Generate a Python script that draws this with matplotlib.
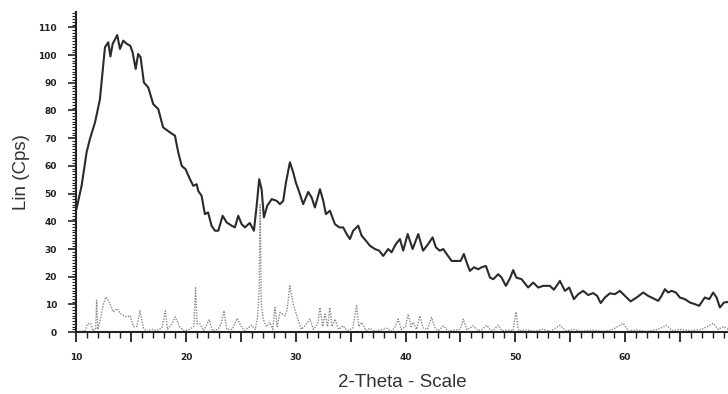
import numpy as np
import matplotlib
matplotlib.use("Agg")
import matplotlib.pyplot as plt
from matplotlib.ticker import MultipleLocator

# Measured pattern (solid)
meas_x = [10.0, 10.47, 10.93, 11.23, 11.7, 12.14, 12.44, 12.6, 12.9, 13.1, 13.3, 13.72,
          13.97, 14.27, 14.6, 14.9, 15.12, 15.4, 15.63, 15.85, 16.15, 16.55, 17.0, 17.46,
          17.9, 18.52, 18.98, 19.28, 19.6, 19.95, 20.35, 20.65, 20.96, 21.1, 21.41, 21.71,
          22.0, 22.32, 22.63, 22.93, 23.33, 23.69, 24.15, 24.45, 24.75, 25.06, 25.36, 25.8,
          26.18, 26.43, 26.66, 26.88, 27.09, 27.39, 27.8, 28.25, 28.55, 28.85, 29.1, 29.46,
          29.76, 30.0, 30.22, 30.67, 31.13, 31.44, 31.74, 32.2, 32.5, 32.74, 33.11, 33.56,
          33.96, 34.32, 34.63, 34.93, 35.23, 35.69, 36.0, 36.39, 36.75, 37.21, 37.6, 37.97,
          38.42, 38.73, 39.12, 39.49, 39.79, 40.2, 40.65, 41.16, 41.6, 42.07, 42.47, 42.77,
          43.13, 43.44, 43.75, 44.2, 44.66, 45.02, 45.32, 45.57, 45.87, 46.24, 46.63, 46.94,
          47.33, 47.7, 48.0, 48.45, 48.76, 49.15, 49.52, 49.82, 50.1, 50.58, 51.18, 51.64,
          52.1, 52.55, 53.16, 53.53, 54.08, 54.53, 54.92, 55.35, 55.74, 56.2, 56.65, 57.11,
          57.47, 57.79, 58.18, 58.63, 59.09, 59.54, 60.0, 60.52, 61.07, 61.67, 62.12, 62.58,
          63.04, 63.34, 63.65, 63.95, 64.26, 64.65, 65.01, 65.47, 65.93, 66.38, 66.77, 67.29,
          67.69, 68.05, 68.36, 68.66, 69.03, 69.4]
meas_y = [44.4, 52.8, 65, 69.7, 75.8, 84, 96, 102.8, 104.6, 99.5, 104, 107.2,
          102.2, 105.2, 104, 103.4, 101, 95, 100.4, 99.2, 90.1, 88.3, 82.3, 80.5,
          73.9, 72.1, 70.9, 64.9, 60, 58.8, 55.2, 52.8, 53.4, 51, 49.2, 42.6,
          43.2, 38.4, 36.6, 36.6, 42, 39.6, 38.4, 37.8, 42, 39, 37.8, 39.4,
          36.6, 45.6, 55.2, 51.6, 41.4, 45.6, 48, 47.4, 46.2, 47.4, 54, 61.3,
          57.7, 54, 51.6, 46.2, 50.6, 48.6, 45, 51.6, 47.4, 42.6, 43.8, 39,
          37.8, 37.8, 35.4, 33.6, 36.6, 38.4, 34.8, 33, 31.2, 30, 29.4, 27.5,
          30, 28.8, 31.8, 33.6, 29.4, 35.4, 30, 35.4, 29.4, 31.8, 34.2, 30.6,
          29.4, 30, 28.2, 25.7, 25.7, 25.7, 28.2, 25.2, 22.1, 23.4, 22.7, 23.4,
          23.9, 19.7, 19.1, 20.9, 19.7, 16.7, 19.4, 22.4, 19.7, 19.1, 16.1, 17.9,
          16.1, 16.7, 16.7, 15.3, 18.5, 14.9, 16.1, 11.9, 13.7, 14.9, 13.4, 14.1,
          13.1, 10.5, 12.5, 14.0, 13.7, 14.9, 13.1, 11.1, 12.5, 14.3, 13.1, 12.2,
          11.3, 13.1, 15.5, 14.3, 14.9, 14.3, 12.5, 11.9, 10.7, 10.1, 9.5, 12.5,
          11.9, 14.3, 12.5, 8.9, 10.7, 10.9]

# Difference / reference pattern (dotted)
ref_x = [10.0, 10.8, 11.0, 11.3, 11.5, 11.75, 11.84, 11.95, 12.2, 12.45, 12.7, 13.05,
         13.35, 13.72, 14.0, 14.3, 14.6, 14.9, 15.2, 15.5, 15.8, 16.1, 16.4, 16.9,
         17.3, 17.8, 18.1, 18.3, 18.7, 19.0, 19.4, 19.8, 20.3, 20.7, 20.86, 21.0,
         21.26, 21.6, 22.1, 22.4, 22.9, 23.2, 23.45, 23.7, 24.2, 24.66, 24.9, 25.3,
         25.97, 26.3, 26.5, 26.66, 26.75, 26.85, 27.03, 27.3, 27.64, 27.9, 28.1, 28.3,
         28.55, 29.0, 29.2, 29.46, 29.76, 30.2, 30.5, 30.83, 31.29, 31.6, 32.0, 32.2,
         32.45, 32.65, 32.9, 33.1, 33.3, 33.56, 33.9, 34.3, 34.7, 35.2, 35.54, 35.75,
         36.0, 36.4, 36.75, 37.2, 37.8, 38.28, 38.7, 39.0, 39.33, 39.6, 40.0, 40.25,
         40.5, 40.7, 41.0, 41.3, 41.6, 42.0, 42.37, 42.7, 43.0, 43.44, 43.9, 44.5,
         45.0, 45.26, 45.6, 46.17, 46.6, 47.0, 47.4, 47.8, 48.1, 48.45, 48.8, 49.3,
         49.8, 50.07, 50.3, 51.0, 51.8, 52.5, 53.2, 54.08, 54.6, 55.3, 56.0, 57.0,
         58.0, 58.8, 59.85, 60.3, 61.0, 62.0, 63.0, 63.8, 64.3, 65.0, 66.0, 67.0,
         67.5, 68.05, 68.5, 69.0, 69.4]
ref_y = [0, 0.5, 3, 3.2, 0.5, 1, 11.5, 1, 5, 10, 12.7, 10.3,
         7.3, 8.5, 6.7, 6, 5.5, 6, 2, 2, 7.7, 1.5, 0.3, 1,
         0.5, 1.5, 7.7, 1, 3, 5.5, 2, 0.5, 1, 2, 16, 3,
         3, 0.5, 4.5, 0.5, 1, 3, 7.7, 1, 1, 5, 3, 0.5,
         2.5, 1, 5, 15.5, 46, 10, 4.7, 2, 3.5, 1, 8.9, 2,
         7.1, 5.9, 8, 16.7, 10.1, 4.7, 1, 2.3, 4.7, 1, 3, 8.9,
         2, 6.5, 2, 8.9, 2, 4.7, 1, 2.3, 0.5, 1.5, 9.5, 2,
         3.5, 0.5, 1.4, 0.3, 0.8, 1.4, 0.3, 1.5, 4.7, 1, 2, 6.5,
         2, 3.5, 1, 5.9, 1.5, 1, 5.3, 1.5, 0.5, 2.3, 0.3, 0.8,
         1, 4.7, 0.8, 2.3, 0.5, 1, 2.5, 0.5, 1, 2.5, 0.5, 0.8,
         0.5, 7.3, 0.5, 0.8, 0.3, 1, 0.3, 2.5, 0.5, 1, 0.3, 0.8,
         0.3, 0.8, 3.2, 0.5, 0.8, 0.3, 1, 2.5, 0.5, 1, 0.5, 1,
         2, 3.2, 1, 2, 1]

y_ticks = [0, 10, 20, 30, 40, 50, 60, 70, 80, 90, 100, 110]
x_ticks = [10, 15, 20, 25, 30, 35, 40, 45, 50, 55, 60, 65]
x_labels = ['10', '', '20', '', '30', '', '40', '', '50', '', '60', '']

fig = plt.figure(figsize=(7.28, 3.94), dpi=100)
ax = fig.add_axes([0.105, 0.157, 0.895, 0.813])

ax.plot(ref_x, ref_y, color='#8a8a8a', linewidth=1.0, linestyle=(0, (1, 1)), zorder=2)
ax.plot(meas_x, meas_y, color='#2b2b2b', linewidth=1.5, zorder=3)

ax.set_xlim(10, 69.4)
ax.set_ylim(0, 115.6)

ax.spines['top'].set_visible(False)
ax.spines['right'].set_visible(False)
for side in ['left', 'bottom']:
    ax.spines[side].set_linewidth(1.5)
    ax.spines[side].set_color('#222222')

ax.set_xticks(x_ticks)
ax.set_xticklabels(x_labels)
ax.set_yticks(y_ticks)
ax.xaxis.set_minor_locator(MultipleLocator(1))
ax.yaxis.set_minor_locator(MultipleLocator(1))
ax.tick_params(axis='x', which='major', direction='out', length=7, width=1.3,
               pad=8, labelsize=6.5, colors='#222222')
ax.tick_params(axis='x', which='minor', direction='out', length=4, width=1.0,
               colors='#222222')
ax.tick_params(axis='y', which='major', direction='out', length=6, width=1.2,
               pad=8, labelsize=6.5, colors='#222222')
ax.tick_params(axis='y', which='minor', direction='out', length=3, width=0.8,
               colors='#222222')
for lab in ax.get_xticklabels() + ax.get_yticklabels():
    lab.set_fontweight('bold')

ax.set_xlabel('2-Theta - Scale', fontsize=13.5, family='Liberation Sans',
              color='#333333', labelpad=9)
ax.set_ylabel('Lin (Cps)', fontsize=13.5, family='Liberation Sans',
              color='#333333', labelpad=6)

fig.savefig('out.png', dpi=100)
